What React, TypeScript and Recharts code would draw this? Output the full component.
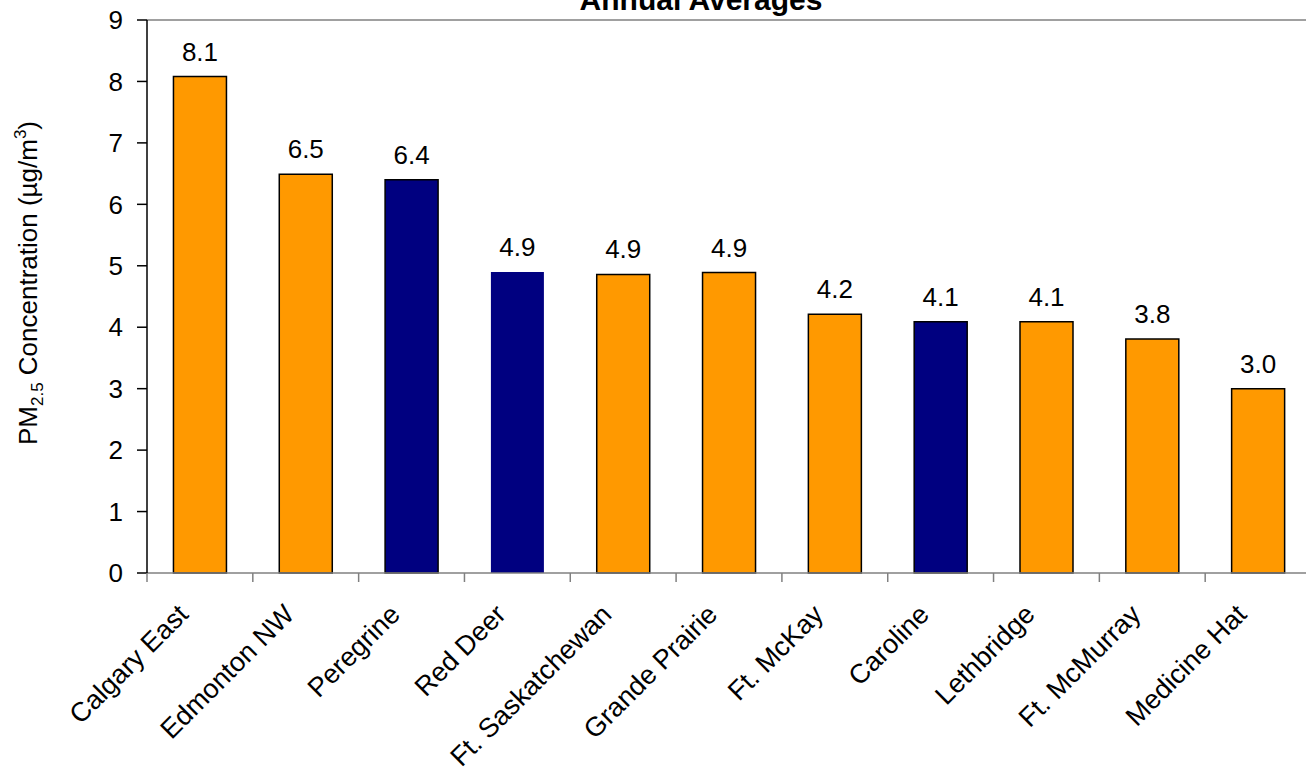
import { Bar, BarChart, Cell, LabelList, ReferenceLine, XAxis, YAxis } from "recharts";

// station annual PM2.5 averages (µg/m3)
const STATIONS = [
  "Calgary East",
  "Edmonton NW",
  "Peregrine",
  "Red Deer",
  "Ft. Saskatchewan",
  "Grande Prairie",
  "Ft. McKay",
  "Caroline",
  "Lethbridge",
  "Ft. McMurray",
  "Medicine Hat",
];
const PM25 = [8.08, 6.49, 6.4, 4.9, 4.86, 4.89, 4.21, 4.09, 4.09, 3.81, 3.0];
// which stations are drawn in navy (the rest orange)
const NAVY_STATIONS = ["Peregrine", "Red Deer", "Caroline"];
const Y_TICKS = [0, 1, 2, 3, 4, 5, 6, 7, 8, 9];

const data = STATIONS.map((name, i) => ({ name, value: PM25[i] }));

const FONT = "'Liberation Sans', Arial, sans-serif";
const ORANGE = "#FF9900";
const NAVY = "#000080";

const CHART_W = 1312;
const CHART_H = 772;
const MARGIN = { top: 20, right: 1, bottom: 0, left: 0 };
const Y_AXIS_W = 147;
const X_AXIS_H = 199;
const BAND = (CHART_W - MARGIN.left - MARGIN.right - Y_AXIS_W) / STATIONS.length;

function StationTick(props: any) {
  const { x, y, payload } = props;
  const left = x - BAND / 2;
  const tx = x - 10;
  const ty = y + 35;
  return (
    <g>
      <line x1={left} x2={left} y1={y - 8} y2={y + 1} stroke="#808080" strokeWidth={1.5} />
      <text
        x={tx}
        y={ty}
        transform={`rotate(-45, ${tx}, ${ty})`}
        textAnchor="end"
        fontSize={27}
        fontFamily={FONT}
        fill="#000"
      >
        {payload.value}
      </text>
    </g>
  );
}

export default function App() {
  return (
    <div
      style={{
        position: "absolute",
        left: 0,
        top: 0,
        width: 1306,
        height: 772,
        overflow: "hidden",
        background: "#fff",
      }}
    >
      <BarChart width={CHART_W} height={CHART_H} data={data} margin={MARGIN} barCategoryGap="25%">
        <ReferenceLine y={9} stroke="#808080" strokeWidth={1.5} />
        <XAxis
          dataKey="name"
          interval={0}
          height={X_AXIS_H}
          tickLine={false}
          tickSize={8}
          tickMargin={0}
          axisLine={{ stroke: "#808080", strokeWidth: 1.5 }}
          tick={<StationTick />}
        />
        <YAxis
          width={Y_AXIS_W}
          domain={[0, 9]}
          ticks={Y_TICKS}
          interval={0}
          tickSize={10}
          tickMargin={14}
          axisLine={{ stroke: "#000", strokeWidth: 1.5 }}
          tickLine={{ stroke: "#000", strokeWidth: 1.5 }}
          tick={{ fontSize: 26, fill: "#000", fontFamily: FONT }}
        />
        <Bar dataKey="value" isAnimationActive={false}>
          {data.map((d) => {
            const navy = NAVY_STATIONS.includes(d.name);
            return (
              <Cell
                key={d.name}
                fill={navy ? NAVY : ORANGE}
                stroke={d.name === "Red Deer" ? "none" : "#000"}
                strokeWidth={1.5}
              />
            );
          })}
          <LabelList
            dataKey="value"
            position="top"
            offset={16}
            formatter={(v: any) => Number(v).toFixed(1)}
            style={{ fontSize: 26, fill: "#000", fontFamily: FONT }}
          />
        </Bar>
      </BarChart>

      {/* title (clipped at top like the original) and y-axis title */}
      <svg
        width={1306}
        height={772}
        style={{ position: "absolute", left: 0, top: 0, pointerEvents: "none" }}
      >
        <text x={701} y={10} textAnchor="middle" fontSize={30} fontWeight="bold" fontFamily={FONT} fill="#000">
          Annual Averages
        </text>
        <text
          x={37}
          y={283}
          transform="rotate(-90, 37, 283)"
          textAnchor="middle"
          fontSize={26}
          fontFamily={FONT}
          fill="#000"
        >
          PM
          <tspan dy={6} fontSize={17}>2.5</tspan>
          <tspan dy={-6}> Concentration (µg/m</tspan>
          <tspan dy={-11} fontSize={17}>3</tspan>
          <tspan dy={11}>)</tspan>
        </text>
      </svg>
    </div>
  );
}
